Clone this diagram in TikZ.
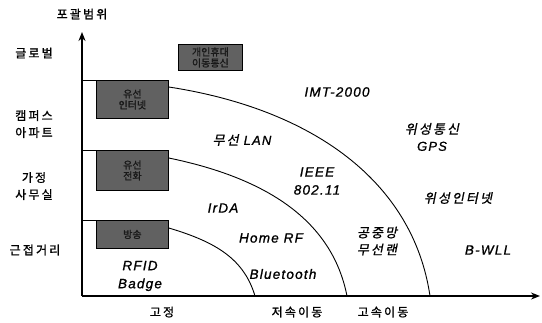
\documentclass[tikz,border=0pt]{standalone}
\usepackage{fontspec}
\setmainfont{Liberation Sans}
\newfontfamily\kr[LetterSpace=18,FakeBold=1.2]{Noto Sans CJK KR}
\newfontfamily\krbox[FakeBold=1.5]{Noto Sans CJK KR}
\newfontfamily\krit[FakeSlant=0.2,LetterSpace=16,FakeBold=1]{Noto Sans CJK KR}
\newfontfamily\latit[LetterSpace=9,FakeBold=1]{Liberation Sans}
\usetikzlibrary{arrows.meta,calc}
\tikzset{
  axis/.style={line width=1.6pt,-{Stealth[length=9pt,width=7pt]}},
  link/.style={line width=0.9pt},
  darkbox/.style={draw=black,line width=0.8pt,fill=black!62,anchor=north west,inner sep=0,
    font=\krbox\fontsize{10}{11}\selectfont,text=black!90,align=center},
  ylab/.style={font=\kr\fontsize{12}{17}\selectfont,align=center,inner sep=0},
  krlab/.style={font=\krit\fontsize{13}{17}\selectfont,align=center,inner sep=0},
  enlab/.style={font=\latit\itshape\fontsize{13.5}{18}\selectfont,align=center,inner sep=0},
}
\begin{document}
\begin{tikzpicture}[x=1pt,y=-1pt]
\useasboundingbox (0,0) rectangle (542,322);
% axes
\coordinate (o) at (82,296);
\coordinate (ytip) at (82,32);
\coordinate (xtip) at (540,296);
\draw[axis] (o) -- (ytip);
\draw[axis] (o) -- (xtip);
% axis titles
\node[ylab] (ytitle) at (82,14) {포괄범위};
\node[ylab] (l1) at (34,53) {글로벌};
\node[ylab] (l2) at (34,124) {캠퍼스\\아파트};
\node[ylab] (l3) at (34,186) {가정\\사무실};
\node[ylab] (l4) at (35,250) {근접거리};
\node[ylab] (x1) at (162,312) {고정};
\node[ylab] (x2) at (297,312) {저속이동};
\node[ylab] (x3) at (383,312) {고속이동};
% boxes
\node[darkbox,minimum width=64pt,minimum height=26pt] (b1) at (178,44) {개인휴대\\이동통신};
\node[darkbox,minimum width=72pt,minimum height=38pt] (b2) at (96,80) {유선\\인터넷};
\node[darkbox,minimum width=72pt,minimum height=40pt] (b3) at (96,150) {유선\\전화};
\node[darkbox,minimum width=72pt,minimum height=28pt] (b4) at (96,220) {방송};
% links from axis to boxes
\coordinate (a2) at (82,80);
\coordinate (a3) at (82,150);
\coordinate (a4) at (82,220);
\draw[link] (a2) -- (b2.north west);
\draw[link] (a3) -- (b3.north west);
\draw[link] (a4) -- (b4.north west);
% curves
\coordinate (s2) at ($(b2.north east)+(0,7)$);
\coordinate (s3) at ($(b3.north east)+(0,8)$);
\coordinate (s4) at ($(b4.north east)+(0,8)$);
\coordinate (e2) at (430,296);
\coordinate (e3) at (347,296);
\coordinate (e4) at (255,296);
\draw[link] (s2) .. controls (312,109) and (413,181) .. (e2);
\draw[link] (s3) .. controls (266,178) and (332,220) .. (e3);
\draw[link] (s4) .. controls (216,242) and (244,259) .. (e4);
% labels
\node[enlab] (imt) at (337,92) {IMT-2000};
\node[krlab] (wlan) at (242,140) {무선\ {\latit\itshape LAN}};
\node[krlab] (sat) at (432,137) {위성통신\\{\latit\itshape GPS}};
\node[enlab] (ieee) at (317,181) {IEEE\\802.11};
\node[krlab] (satnet) at (458,198) {위성인터넷};
\node[enlab] (irda) at (223,208) {IrDA};
\node[enlab] (hrf) at (271,238) {Home RF};
\node[krlab] (pub) at (377,241) {공중망\\무선랜};
\node[enlab] (bwll) at (488,250) {B-WLL};
\node[enlab] (bt) at (283,274) {Bluetooth};
\node[enlab] (rfid) at (140,276) {RFID\\Badge};
\end{tikzpicture}
\end{document}
